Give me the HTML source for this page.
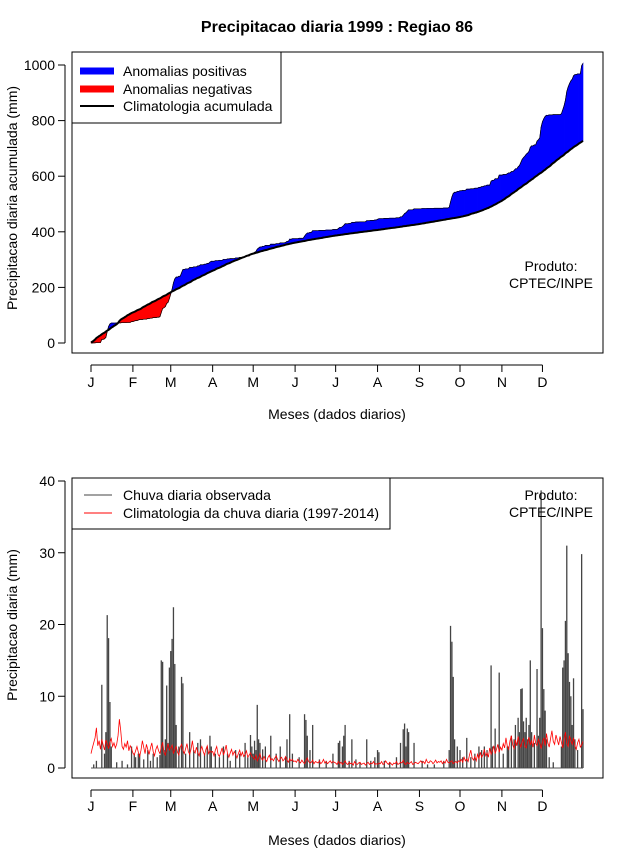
<!DOCTYPE html>
<html><head><meta charset="utf-8"><style>
body{margin:0;background:#fff;}
svg text{font-family:"Liberation Sans",Arial,sans-serif;}
</style></head><body>
<svg id="chart" width="640" height="850" viewBox="0 0 640 850" xmlns="http://www.w3.org/2000/svg">
<rect width="640" height="850" fill="#fff"/>
<text x="337" y="32" font-size="16" font-weight="bold" text-anchor="middle">Precipitacao diaria 1999 : Regiao 86</text>
<g id="topg"></g>
<g id="botg"></g>
</svg>
<script>
const monthLabels = ["J","F","M","A","M","J","J","A","S","O","N","D"];
const monthStartDays = [1,32,60,91,121,152,182,213,244,274,305,335];
const topTicks = [0,200,400,600,800,1000];
const botTicks = [0,10,20,30,40];
const climDaily = [
2.0,2.8,3.5,4.2,5.6,3.1,3.8,2.6,4.0,3.2,2.5,3.9,3.4,2.7,3.6,4.1,3.0,3.5,2.8,3.3,4.5,6.8,5.2,3.0,2.6,3.4,2.9,3.8,2.4,3.1,2.7,
2.1,1.8,2.4,3.0,2.2,1.6,2.5,3.8,2.9,2.0,3.3,2.6,1.9,2.8,3.5,2.3,1.7,2.6,3.1,2.4,2.0,2.9,3.6,2.2,1.8,2.7,3.4,2.5,
2.8,3.2,2.0,2.6,3.0,2.2,1.8,2.9,3.3,2.5,2.0,2.7,3.4,2.3,1.9,2.6,3.8,2.4,2.1,2.9,2.2,1.7,2.5,3.0,2.3,1.8,2.6,3.1,2.0,2.4,2.2,
2.3,1.7,2.5,3.0,1.9,1.6,2.2,2.8,1.8,2.4,3.2,2.0,1.5,2.1,2.6,1.8,2.3,1.9,1.4,2.0,2.5,1.7,2.2,1.6,1.9,2.4,1.5,1.8,2.1,1.6,
1.5,1.2,1.8,1.0,1.4,2.0,1.3,1.1,1.6,1.2,0.9,1.5,1.8,1.1,1.3,1.0,1.4,1.7,1.2,0.9,1.3,1.5,1.0,1.2,1.6,1.1,0.8,1.3,1.0,1.2,0.9,
1.0,0.8,1.2,0.9,0.7,1.1,0.8,0.6,1.0,1.4,0.9,0.7,0.8,1.1,0.6,0.9,0.8,0.7,1.0,0.6,0.8,1.2,0.7,0.9,0.6,0.8,1.0,0.7,0.9,0.8,
0.7,0.5,0.9,0.6,0.8,0.5,0.7,1.0,0.6,0.5,0.8,0.6,0.7,0.4,0.9,0.6,0.5,0.7,0.8,0.5,0.6,0.7,0.4,0.6,0.8,0.5,0.7,0.6,0.9,0.5,0.6,
0.5,0.7,0.6,0.9,0.5,0.6,1.0,0.7,0.5,0.8,0.6,0.4,0.7,0.6,0.9,0.5,0.6,0.8,0.7,1.1,0.6,0.5,0.8,0.6,0.7,0.9,0.5,0.6,0.8,0.7,0.6,
0.8,1.0,0.7,0.9,0.6,1.2,0.8,0.7,1.0,0.9,0.6,0.8,1.1,0.7,0.9,0.8,1.0,0.6,0.9,0.7,1.2,0.8,0.7,0.9,1.0,0.6,0.8,0.9,0.7,1.0,
0.9,1.2,0.8,1.5,1.0,1.3,0.9,1.8,2.5,1.4,1.1,1.6,1.0,1.9,1.3,2.2,1.5,1.8,2.6,1.7,2.1,1.5,2.8,1.9,2.4,3.1,2.0,2.6,3.3,2.2,2.9,
2.5,3.4,2.8,4.2,3.0,2.6,3.8,4.5,3.2,2.7,3.9,3.1,4.4,3.5,2.9,3.7,4.1,3.0,2.8,3.6,4.3,3.2,3.8,2.9,4.6,3.4,3.1,4.0,3.5,2.7,
3.6,4.2,3.1,4.8,3.5,2.9,4.1,5.2,3.7,3.3,4.6,3.9,3.2,4.4,3.6,2.8,4.0,5.0,3.4,3.0,4.5,3.8,3.3,4.2,3.1,2.6,3.5,4.0,2.9,3.2,3.7];
const obsDays = [3,5,9,11,12,13,14,15,16,20,24,28,31,33,34,36,37,40,43,45,47,50,52,53,54,55,56,57,58,59,60,61,62,63,64,66,68,69,71,74,77,80,82,85,87,89,90,93,96,99,102,104,108,111,115,117,119,120,121,122,123,124,125,126,128,130,134,138,141,145,146,148,150,155,159,160,161,163,165,170,175,180,184,185,187,188,189,192,194,197,200,205,208,211,213,214,218,222,227,230,232,233,234,235,236,240,246,250,255,262,266,267,268,269,270,272,274,276,279,282,285,288,290,292,294,297,298,300,303,306,309,310,312,314,315,317,318,319,320,321,322,323,324,325,326,327,329,331,332,333,334,335,336,337,338,340,343,349,350,351,352,353,354,355,356,357,358,359,361,364,365];
const obsVals = [0.5,1,11.6,2,5,21.3,18.1,9.2,3.0,0.8,1.0,0.5,3,2,1.5,2,2.0,1.2,2.5,1.0,2.0,1.5,1.8,15,14.8,2.5,4,11.5,3.5,14,16.3,18.0,22.4,14.5,6.0,3,12.7,11.8,2,5.0,2.5,3.5,4,2,3.0,4.5,3,2,1.5,3,2,1,2.5,2,3.5,1.5,4.6,3,2,3.8,2.5,8.8,4,3.5,2.6,3,4.5,2.0,3,1.5,4,7.5,2,1.5,7.5,6.7,4.5,2.5,6.0,1.2,1.0,2.0,3.5,3.8,3,4.5,6.0,1.0,4.0,1.2,0.8,4.0,1,1.5,2.5,2.2,1,0.8,1.5,3.5,5.4,6.2,3.0,5.5,5.0,3.5,1.0,0.5,0.5,1.0,2.5,19.8,17.6,12.7,4,3,2.5,1.5,4.2,1.5,2.0,3,2.5,3,2.5,14.3,3,5.5,13.3,2,3,3,4.5,4,6.0,7,5,11,11.1,6.5,5,7,4,6,15,5,3.5,13.8,4.5,7,38.7,19.5,11,8,4,1.5,0.8,3,14,15,20.5,31,16,12,10,6,12.5,4,2.5,29.8,8.2];

const NS="http://www.w3.org/2000/svg";
function mk(parent,tag,attrs,text){const e=document.createElementNS(NS,tag);for(const k in attrs)e.setAttribute(k,attrs[k]);if(text!==undefined)e.textContent=text;parent.appendChild(e);return e;}
const xDay = d => 91 + (d-1)*(583-91)/364;
const yTop = v => 343 - v*(343-65)/1000;
const yBot = v => 768 - v*(768-481)/40;

const nDays = climDaily.length;
const obsDaily = new Array(nDays).fill(0);
obsDays.forEach((d,i)=>{if(d-1<nDays)obsDaily[d-1]=obsVals[i];});
const obsCum=[],climCum=[];let sa=0,sb=0;
for(let i=0;i<nDays;i++){sa+=obsDaily[i];sb+=climDaily[i];obsCum.push(sa);climCum.push(sb);}

function axes(g,yFn,ticks,axisY,labY,titleY,ylab,ylabCY,boxY0,boxY1,pfx){
  const box=mk(g,'rect',{x:72,y:boxY0,width:531,height:boxY1-boxY0,fill:'none',stroke:'#000','stroke-width':1});
  
  
  const ya=mk(g,'line',{x1:65,x2:65,y1:yFn(ticks[ticks.length-1]),y2:yFn(ticks[0]),stroke:'#000'});
  
  
  ticks.forEach(t=>{
    const y=yFn(t);
    mk(g,'line',{x1:58,x2:65,y1:y,y2:y,stroke:'#000'});
    const tl=mk(g,'text',{x:55,y:y+5,'font-size':14,'text-anchor':'end'},String(t));
    
    
  });
  const xa=mk(g,'line',{x1:xDay(1),x2:xDay(monthStartDays[11]),y1:axisY,y2:axisY,stroke:'#000'});
  
  
  monthStartDays.forEach((d,i)=>{
    const x=xDay(d);
    mk(g,'line',{x1:x,x2:x,y1:axisY,y2:axisY+7,stroke:'#000'});
    const ml=mk(g,'text',{x:x,y:labY,'font-size':14,'text-anchor':'middle'},monthLabels[i]);
    
    
  });
  const xt=mk(g,'text',{x:337,y:titleY,'font-size':14,'text-anchor':'middle'},'Meses (dados diarios)');
  
  
  const yt=mk(g,'text',{x:0,y:0,'font-size':14,'text-anchor':'middle',transform:`translate(17,${ylabCY}) rotate(-90)`},ylab);
  
  
}

// TOP
const topG=document.getElementById('topg');
for(let i=0;i<nDays-1;i++){
  const o0=obsCum[i],o1=obsCum[i+1],c0=climCum[i],c1=climCum[i+1];
  const col=(o0+o1)>=(c0+c1)?'#0000ff':'#ff0000';
  const p=mk(topG,'polygon',{points:`${xDay(i+1)},${yTop(o0)} ${xDay(i+2)},${yTop(o1)} ${xDay(i+2)},${yTop(c1)} ${xDay(i+1)},${yTop(c0)}`,fill:col,stroke:col,'stroke-width':0.6});
  
  
}
const op=mk(topG,'polyline',{points:obsCum.map((v,i)=>xDay(i+1)+','+yTop(v)).join(' '),fill:'none',stroke:'#000','stroke-width':0.7});


const cp=mk(topG,'polyline',{points:climCum.map((v,i)=>xDay(i+1)+','+yTop(v)).join(' '),fill:'none',stroke:'#000','stroke-width':2});


axes(topG,yTop,topTicks,365,387,419,'Precipitacao diaria acumulada (mm)',198,52,353,'top');
const lg=mk(topG,'g',{});


mk(lg,'rect',{x:72,y:52,width:209,height:71,fill:'#fff',stroke:'#000'});
mk(lg,'line',{x1:80,x2:114,y1:71,y2:71,stroke:'#0000ff','stroke-width':7});
mk(lg,'line',{x1:80,x2:114,y1:89,y2:89,stroke:'#ff0000','stroke-width':7});
mk(lg,'line',{x1:80,x2:114,y1:106,y2:106,stroke:'#000','stroke-width':2});
mk(lg,'text',{x:123,y:76,'font-size':14},'Anomalias positivas');
mk(lg,'text',{x:123,y:94,'font-size':14},'Anomalias negativas');
mk(lg,'text',{x:123,y:111,'font-size':14},'Climatologia acumulada');
const p1=mk(topG,'text',{x:551,y:271,'font-size':14,'text-anchor':'middle'},'Produto:');


mk(topG,'text',{x:551,y:288,'font-size':14,'text-anchor':'middle'},'CPTEC/INPE');

// BOTTOM
const botG=document.getElementById('botg');
mk(botG,'line',{x1:xDay(1),x2:xDay(nDays),y1:yBot(0),y2:yBot(0),stroke:'#555','stroke-width':1});
for(let i=0;i<nDays;i++){
  if(obsDaily[i]<=0)continue;
  const x=xDay(i+1);
  const bar=mk(botG,'line',{x1:x,x2:x,y1:yBot(0),y2:yBot(obsDaily[i]),stroke:'#444','stroke-width':1.3});
  
  
}
const rl=mk(botG,'polyline',{points:climDaily.map((v,i)=>xDay(i+1)+','+yBot(v)).join(' '),fill:'none',stroke:'#ff0000','stroke-width':0.8});


axes(botG,yBot,botTicks,790,811,845,'Precipitacao diaria (mm)',625,478,778,'bottom');
const lg2=mk(botG,'g',{});


mk(lg2,'rect',{x:72,y:478,width:318,height:51,fill:'#fff',stroke:'#000'});
mk(lg2,'line',{x1:84,x2:112,y1:495,y2:495,stroke:'#444','stroke-width':1});
mk(lg2,'line',{x1:84,x2:112,y1:513,y2:513,stroke:'#ff0000','stroke-width':1});
mk(lg2,'text',{x:123,y:500,'font-size':14},'Chuva diaria observada');
mk(lg2,'text',{x:123,y:518,'font-size':14},'Climatologia da chuva diaria (1997-2014)');
const p2=mk(botG,'text',{x:551,y:500,'font-size':14,'text-anchor':'middle'},'Produto:');


mk(botG,'text',{x:551,y:517,'font-size':14,'text-anchor':'middle'},'CPTEC/INPE');
</script>
</body></html>
